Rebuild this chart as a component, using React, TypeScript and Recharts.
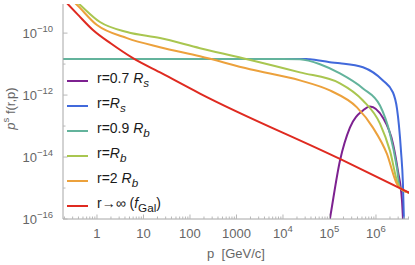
import React from 'react';
import { LineChart, Line, XAxis, YAxis, Legend } from 'recharts';

if (typeof document !== 'undefined') document.body.style.margin = '0';

// axis ranges
const pRange = [0.186, 5.13e6];
const fRange = [1e-16, 8.7e-10];

const xMajor = [1, 10, 100, 1000, 1e4, 1e5, 1e6];
const xTickLabels = [['1', ''], ['10', ''], ['100', ''], ['1000', ''], ['10', '4'], ['10', '5'], ['10', '6']];
const yMajor = [1e-10, 1e-12, 1e-14, 1e-16];
const yTickLabels = ['\u221210', '\u221212', '\u221214', '\u221216'];
const yMinor = [1e-11, 1e-13, 1e-15];

// minor decade ticks, 2..9 x 10^k
const xMinor: number[] = [];
for (let k = -1; k <= 6; k++) {
  for (let m = 2; m <= 9; m++) {
    const v = m * Math.pow(10, k);
    if (v > pRange[0] && v < pRange[1]) xMinor.push(v);
  }
}

// [p, p^s f] pairs
const r07Rs = [
  [8.4e4, 1.9e-17], [1.02e5, 1.0e-16], [1.68e5, 7.6e-15], [2.75e5, 8.9e-14], [5.25e5, 3.2e-13],
  [7.4e5, 4.3e-13], [1.41e6, 1.86e-13], [2.32e6, 2.7e-14], [2.97e6, 3.5e-15], [3.63e6, 3.8e-16],
  [3.8e6, 1.07e-16], [3.98e6, 2.75e-17],
];
const rRs = [
  [0.18, 1.47e-11], [100, 1.47e-11], [1e4, 1.47e-11], [3.16e4, 1.46e-11], [3.8e4, 1.43e-11],
  [1.02e5, 1.15e-11], [1.68e5, 1.07e-11], [5.25e5, 7.9e-12], [1.41e6, 2.95e-12], [2.32e6, 1.21e-12],
  [2.83e6, 3.67e-13], [3.12e6, 1.03e-13], [3.45e6, 1.58e-14], [3.8e6, 1.35e-15], [3.98e6, 1.07e-16],
  [4.17e6, 1.9e-17],
];
const r09Rb = [
  [0.18, 1.47e-11], [100, 1.47e-11], [1e4, 1.47e-11], [2.32e4, 1.43e-11], [6.25e4, 9.9e-12],
  [1.68e5, 5.0e-12], [5.25e5, 1.64e-12], [1.22e6, 4.6e-13], [2.0e6, 5.6e-14], [2.82e6, 4.5e-15],
  [3.28e6, 1.0e-15], [5.37e6, 6.9e-16],
];
const rRb = [
  [0.186, 2.5e-9], [0.39, 9.4e-10], [1.16, 2.28e-10], [4.42, 1.08e-10], [22.6, 6.9e-11],
  [164, 3.26e-11], [1380, 1.55e-11], [2.32e4, 5.4e-12], [1.68e5, 2.4e-12], [5.25e5, 6.7e-13],
  [1.22e6, 1.2e-13], [2.0e6, 1.58e-14], [2.97e6, 1.35e-15], [3.28e6, 1.0e-15], [5.37e6, 6.9e-16],
];
const r2Rb = [
  [0.186, 1.95e-9], [0.336, 9.4e-10], [1.0, 1.82e-10], [4.42, 6.9e-11], [22.6, 3.5e-11],
  [164, 1.78e-11], [1950, 6.8e-12], [2.32e4, 2.98e-12], [1.02e5, 1.41e-12], [3.9e5, 4.0e-13],
  [8.6e5, 8.9e-14], [1.72e6, 1.26e-14], [2.82e6, 1.35e-15], [3.28e6, 1.0e-15], [5.37e6, 6.9e-16],
];
const rInf = [
  [0.178, 1.38e-9], [0.226, 9.3e-10], [0.398, 3.8e-10], [0.82, 1.26e-10], [2.0, 4.6e-11],
  [5.94, 1.55e-11], [25, 5.0e-12], [164, 1.12e-12], [1.68e5, 8.7e-15], [5.37e6, 6.9e-16],
];

const toRows = (pts: number[][]) => pts.map(([p, f]) => ({ p, f }));

const series = [
  { key: 'r07Rs', color: '#7d2190', data: r07Rs, label: <>r=0.7 <i>R</i><sub><i>s</i></sub></> },
  { key: 'rRs', color: '#4169db', data: rRs, label: <>r=<i>R</i><sub><i>s</i></sub></> },
  { key: 'r09Rb', color: '#63b39c', data: r09Rb, label: <>r=0.9 <i>R</i><sub><i>b</i></sub></> },
  { key: 'rRb', color: '#a9c650', data: rRb, label: <>r=<i>R</i><sub><i>b</i></sub></> },
  { key: 'r2Rb', color: '#eca13c', data: r2Rb, label: <>r=2 <i>R</i><sub><i>b</i></sub></> },
  { key: 'rInf', color: '#df2a20', data: rInf, label: <>r{'\u2192\u221e'} (<i>f</i><sub>Gal</sub>)</> },
];

const frame = '#a6a6a6';
const tickCol = '#b8b8b8';
const textCol = '#666666';
const font = '"Liberation Sans", Arial, sans-serif';

const XTick = (props: any) => {
  const { x, y, payload, side } = props;
  const i = xMajor.indexOf(payload.value);
  const len = i >= 0 ? 4.5 : 2.5;
  const dir = side === 'top' ? 1 : -1;
  return (
    <g>
      <line x1={x} x2={x} y1={y} y2={y + dir * len} stroke={tickCol} strokeWidth={1} />
      {side === 'bottom' && i >= 0 && (
        <text x={x} y={y + 19} textAnchor="middle" fontSize={13} fill={textCol} fontFamily={font}>
          <tspan>{xTickLabels[i][0]}</tspan>
          {xTickLabels[i][1] && <tspan dy={-6} fontSize={9.5}>{xTickLabels[i][1]}</tspan>}
        </text>
      )}
    </g>
  );
};

const YTick = (props: any) => {
  const { x, y, payload, side } = props;
  const i = yMajor.indexOf(payload.value);
  const len = i >= 0 ? 4.5 : 2.5;
  const dir = side === 'left' ? 1 : -1;
  return (
    <g>
      <line x1={x} x2={x + dir * len} y1={y} y2={y} stroke={tickCol} strokeWidth={1} />
      {side === 'left' && i >= 0 && (
        <text x={x - 10} y={y + 5} textAnchor="end" fontSize={13} fill={textCol} fontFamily={font}>
          <tspan>10</tspan>
          <tspan dy={-6} fontSize={9.5}>{yTickLabels[i]}</tspan>
        </text>
      )}
    </g>
  );
};

const LegendBox = () => (
  <div style={{ fontFamily: font, fontSize: 14, color: '#1a1a1a' }}>
    {series.map((s) => (
      <div key={s.key} style={{ display: 'flex', alignItems: 'center', height: 25 }}>
        <span style={{ display: 'inline-block', width: 21, height: 2, background: s.color, marginRight: 9 }} />
        <span style={{ lineHeight: '14px' }}>{s.label}</span>
      </div>
    ))}
  </div>
);

export default function App() {
  const xTicks = [...xMajor, ...xMinor];
  const yTicks = [...yMajor, ...yMinor];
  return (
    <div style={{ position: 'relative', width: 415, height: 265, background: '#fff' }}>
      <LineChart width={415} height={265} margin={{ top: 4, right: 6, bottom: 0, left: 0 }}>
        <XAxis
          xAxisId={0}
          dataKey="p"
          type="number"
          scale="log"
          domain={pRange}
          allowDataOverflow
          ticks={xTicks}
          interval={0}
          tickSize={0}
          tickMargin={0}
          tickLine={false}
          height={46}
          axisLine={{ stroke: frame }}
          tick={(p: any) => <XTick {...p} side="bottom" />}
          label={{
            content: (lp: any) => {
              const vb = lp.viewBox;
              return (
                <text x={vb.x + vb.width / 2} y={vb.y + 39} textAnchor="middle" fontSize={13} fill={textCol} fontFamily={font}>
                  {'p\u00a0\u00a0[GeV/c]'}
                </text>
              );
            },
          }}
        />
        <XAxis
          xAxisId="top"
          orientation="top"
          dataKey="p"
          type="number"
          scale="log"
          domain={pRange}
          allowDataOverflow
          ticks={xTicks}
          interval={0}
          tickSize={0}
          tickMargin={0}
          tickLine={false}
          height={0}
          axisLine={{ stroke: frame }}
          tick={(p: any) => <XTick {...p} side="top" />}
        />
        <YAxis
          yAxisId={0}
          type="number"
          scale="log"
          domain={fRange}
          allowDataOverflow
          ticks={yTicks}
          interval={0}
          tickSize={0}
          tickMargin={0}
          tickLine={false}
          width={63}
          axisLine={{ stroke: frame }}
          tick={(p: any) => <YTick {...p} side="left" />}
          label={{
            content: (lp: any) => {
              const vb = lp.viewBox;
              const cx = vb.x + 15;
              const cy = vb.y + vb.height / 2 - 3;
              return (
                <text x={cx} y={cy} transform={`rotate(-90 ${cx} ${cy})`} textAnchor="middle" fontSize={13} fill={textCol} fontFamily={font}>
                  <tspan fontStyle="italic">p</tspan>
                  <tspan dy={-6} fontSize={9.5}>s</tspan>
                  <tspan dy={6}>{'\u00a0f(r,p)'}</tspan>
                </text>
              );
            },
          }}
        />
        <YAxis
          yAxisId="right"
          orientation="right"
          type="number"
          scale="log"
          domain={fRange}
          allowDataOverflow
          ticks={yTicks}
          interval={0}
          tickSize={0}
          tickMargin={0}
          tickLine={false}
          width={0}
          axisLine={{ stroke: frame }}
          tick={(p: any) => <YTick {...p} side="right" />}
        />
        {series.map((s) => (
          <Line
            key={s.key}
            data={toRows(s.data)}
            dataKey="f"
            name={s.key}
            type="monotone"
            stroke={s.color}
            strokeWidth={2}
            dot={false}
            isAnimationActive={false}
          />
        ))}
        <Legend
          layout="vertical"
          align="center"
          verticalAlign="middle"
          content={() => <LegendBox />}
          wrapperStyle={{ position: 'absolute', left: 67, top: 68, width: 130, height: 150 }}
        />
      </LineChart>
    </div>
  );
}
